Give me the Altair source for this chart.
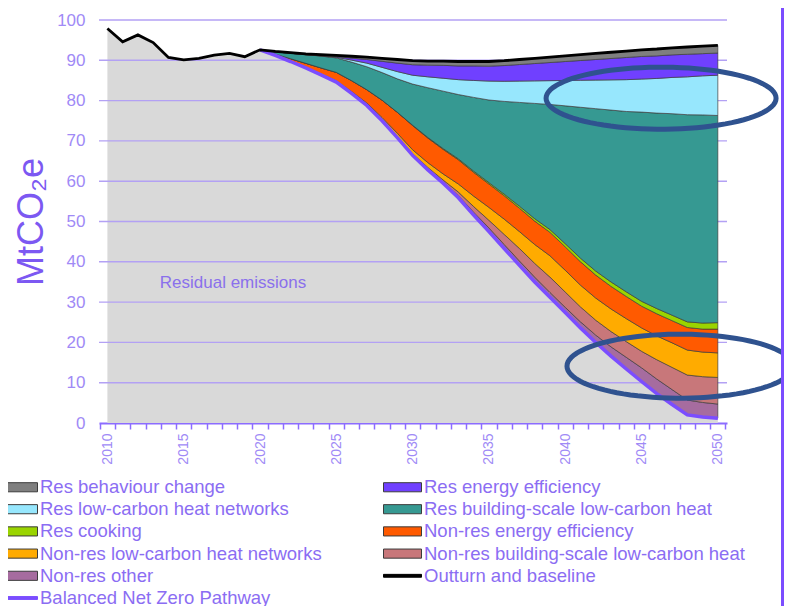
import math
import altair as alt
import pandas as pd

# ---------------- data ----------------
years_hist = list(range(2010, 2021))
outturn = [97.9, 94.6, 96.3, 94.4, 90.7, 90.1, 90.5, 91.3, 91.7, 90.9, 92.6]

years_proj = list(range(2020, 2051))
baseline = [92.6, 92.2, 91.9, 91.6, 91.4, 91.2, 91.0, 90.8, 90.5, 90.2, 89.9,
            89.8, 89.8, 89.7, 89.7, 89.7, 89.9, 90.2, 90.5, 90.8, 91.1,
            91.4, 91.7, 92.0, 92.3, 92.6, 92.8, 93.1, 93.3, 93.5, 93.7]
pathway = [92.6, 91.2, 89.7, 88.1, 86.4, 84.6, 81.8, 78.8, 75.0, 70.8, 66.4,
           62.8, 59.5, 55.9, 51.6, 47.5, 43.3, 39.1, 35.0, 31.2, 27.4,
           23.6, 20.0, 16.6, 13.4, 10.3, 7.3, 4.6, 2.0, 1.5, 1.2]

nonres_other = [0, 0, 0, 0, 0, 0, 0, 0, 0.05, 0.1, 0.1,
                0.2, 0.3, 0.5, 0.7, 0.9, 1.0, 1.1, 1.2, 1.2, 1.3,
                1.5, 1.8, 2.3, 2.9, 3.4, 3.6, 3.7, 3.7, 3.6, 3.5]
nonres_building = [0, 0, 0, 0, 0, 0, 0.05, 0.1, 0.15, 0.2, 0.3,
                   0.4, 0.5, 0.9, 1.4, 1.9, 2.5, 3.1, 3.4, 3.8, 3.8,
                   3.7, 3.7, 3.8, 3.9, 4.1, 4.8, 5.5, 6.2, 6.4, 6.6]
nonres_heatnet = [0, 0.05, 0.1, 0.15, 0.2, 0.3, 0.4, 0.5, 0.6, 0.8, 1.0,
                  1.2, 1.5, 2.0, 2.6, 3.2, 3.8, 4.2, 4.7, 5.3, 5.4,
                  5.4, 5.5, 5.6, 5.7, 5.8, 5.9, 6.1, 6.2, 6.1, 6.1]
nonres_eff = [0, 0.3, 0.6, 1.0, 1.5, 2.1, 2.7, 3.3, 4.3, 5.2, 6.0,
              6.1, 6.1, 6.0, 5.9, 5.8, 5.8, 5.8, 5.8, 5.8, 5.8,
              5.8, 5.7, 5.6, 5.5, 5.4, 5.5, 5.5, 5.6, 5.7, 5.9]
res_cooking = [0, 0, 0, 0, 0, 0, 0, 0, 0, 0, 0.1,
               0.15, 0.2, 0.25, 0.3, 0.35, 0.4, 0.5, 0.6, 0.7, 0.8,
               0.9, 1.0, 1.1, 1.15, 1.2, 1.3, 1.35, 1.4, 1.5, 1.6]
res_building = [0, 0.55, 1.35, 2.15, 2.95, 3.6, 4.6, 5.7, 6.85, 8.3, 10.2,
                12.35, 14.25, 15.95, 18.3, 20.5, 23.0, 25.75, 28.6, 31.05, 34.2,
                37.45, 40.3, 42.65, 44.75, 46.95, 48.5, 50.0, 51.4, 51.65, 51.4]
res_heatnet = [0, 0, 0, 0, 0.05, 0.15, 0.5, 0.9, 1.3, 1.8, 2.2,
               2.7, 3.2, 3.7, 4.2, 4.7, 5.0, 5.3, 5.6, 5.9, 6.3,
               6.7, 7.1, 7.5, 7.9, 8.2, 8.6, 9.0, 9.4, 9.7, 10.0]
res_eff = [0, 0, 0, 0, 0.05, 0.15, 0.5, 0.9, 1.5, 2.1, 2.6,
           2.9, 3.2, 3.4, 3.6, 3.7, 3.9, 4.1, 4.3, 4.5, 4.7,
           4.9, 5.1, 5.3, 5.5, 5.6, 5.6, 5.6, 5.6, 5.5, 5.5]
res_behaviour = [0, 0.1, 0.15, 0.2, 0.25, 0.3, 0.45, 0.6, 0.75, 0.9, 1.0,
                 1.0, 1.05, 1.1, 1.1, 1.15, 1.2, 1.25, 1.3, 1.35, 1.4,
                 1.45, 1.5, 1.55, 1.6, 1.65, 1.7, 1.75, 1.8, 1.85, 1.9]

legend_names = ["Res behaviour change", "Res energy efficiency",
                "Res low-carbon heat networks", "Res building-scale low-carbon heat",
                "Res cooking", "Non-res energy efficiency",
                "Non-res low-carbon heat networks", "Non-res building-scale low-carbon heat",
                "Non-res other", "Outturn and baseline", "Balanced Net Zero Pathway"]
legend_colors = ["#7f7f7f", "#7040ff", "#97e7fd", "#369992", "#9ad400", "#ff5a00",
                 "#ffab00", "#c8777a", "#a66c9f", "#000000", "#7b4dff"]

residual_label = ["Residual emissions"]
residual_label_pos = [2018.23, 34.7]
ellipse_years = [2046.28, 2047.52]
ellipse_values = [80.6, 14.1]
grid_values = list(range(10, 101, 10))

# ---------------- styling ----------------
FONT = "Liberation Sans"
GRAY = "#d9d9d9"
GRID = "#b3a1f4"
AXIS = "#8c6cff"
LABEL = "#a08af6"
LEGEND_TXT = "#8b6df3"
TITLE = "#7c58f2"
W, H = 628, 403
X0, X1 = 2009.45, 2050.6
HALF_YEAR_PX = W / (X1 - X0) / 2

color_of = dict(zip(legend_names, legend_colors))

stack_series = [("Non-res other", nonres_other),
                ("Non-res building-scale low-carbon heat", nonres_building),
                ("Non-res low-carbon heat networks", nonres_heatnet),
                ("Non-res energy efficiency", nonres_eff),
                ("Res cooking", res_cooking),
                ("Res building-scale low-carbon heat", res_building),
                ("Res low-carbon heat networks", res_heatnet),
                ("Res energy efficiency", res_eff),
                ("Res behaviour change", res_behaviour)]

rows = []
for yr, v in zip(years_hist[:-1], outturn[:-1]):
    rows.append({"year": yr, "series": "Residual emissions", "ord": 0, "value": v})
for i, yr in enumerate(years_proj):
    rows.append({"year": yr, "series": "Residual emissions", "ord": 0, "value": pathway[i]})
    for k, (name, vals) in enumerate(stack_series, start=1):
        rows.append({"year": yr, "series": name, "ord": k, "value": vals[i]})
stack_df = pd.DataFrame(rows)

black_df = pd.DataFrame({"year": years_hist + years_proj[1:],
                         "v": outturn + baseline[1:]})
path_df = pd.DataFrame({"year": years_proj, "v": pathway})

xscale = alt.Scale(domain=[X0, X1], nice=False, zero=False)
yscale = alt.Scale(domain=[0, 100], nice=False)

x_axis = alt.Axis(orient="bottom", values=[y + 0.5 for y in range(2009, 2051)],
                  labelExpr="(datum.value + 0.5) % 5 == 0 ? format(datum.value + 0.5, 'd') : ''",
                  labelOffset=HALF_YEAR_PX, ticks=True, tickSize=6, tickColor=AXIS,
                  tickWidth=1.5, domain=True, domainColor=AXIS, domainWidth=2.2, grid=False,
                  labelAngle=270, labelFontSize=14, labelColor=LABEL, labelFont=FONT,
                  labelPadding=4, labelFlush=False, labelOverlap=False, labelBound=False,
                  title=None)
y_axis = alt.Axis(orient="left", values=list(range(0, 101, 10)), grid=False, ticks=False,
                  domain=False, labelFontSize=17, labelColor=LABEL, labelFont=FONT,
                  labelPadding=14, title="MtCO₂e", titleFontSize=36, titleFont=FONT,
                  titleFontWeight="normal", titleColor=TITLE, titleAngle=270,
                  titleX=-68, titleY=H / 2, titleAlign="center", titleBaseline="middle")


def X(field="year"):
    return alt.X(f"{field}:Q", scale=xscale, axis=x_axis)


def Y(field):
    return alt.Y(f"{field}:Q", scale=yscale, axis=y_axis)


base = alt.Chart(stack_df).transform_stack(
    stack="value", groupby=["year"], as_=["y0", "y1"],
    sort=[alt.SortField("ord", order="ascending")])

gray = base.transform_filter("datum.ord == 0").mark_area(color=GRAY).encode(
    x=X(), y=Y("y1"), y2="y0:Q")

grid = alt.Chart(pd.DataFrame({"v": grid_values,
                               "xa": [X0] * len(grid_values),
                               "xb": [X1] * len(grid_values)})).mark_rule(
    color=GRID, strokeWidth=1.4).encode(y=Y("v"), x=X("xa"), x2="xb:Q")

colored = []
for k, (name, _) in enumerate(stack_series, start=1):
    colored.append(base.transform_filter(f"datum.ord == {k}").mark_area(
        fill=color_of[name], stroke="#3c3c3c", strokeWidth=0.8, strokeOpacity=0.85).encode(
        x=X(), y=Y("y1"), y2="y0:Q"))

path_line = alt.Chart(path_df).mark_line(color="#7b4dff", strokeWidth=3.5).encode(
    x=X(), y=Y("v"))
black_line = alt.Chart(black_df).mark_line(color="#000000", strokeWidth=2.8).encode(
    x=X(), y=Y("v"))

label_text = alt.Chart(pd.DataFrame({"year": [residual_label_pos[0]],
                                     "v": [residual_label_pos[1]],
                                     "t": residual_label})).mark_text(
    font=FONT, fontSize=17, color="#8a70ec", align="center", baseline="middle").encode(
    x=X(), y=Y("v"), text="t:N")


def ellipse_path(ratio, n=90):
    pts = []
    for i in range(n):
        t = 2 * math.pi * i / n
        pts.append(f"{math.cos(t):.4f},{ratio * math.sin(t):.4f}")
    return "M" + "L".join(pts) + "Z"


ellipse_shapes = [(ellipse_path(31 / 115), (2 * 115) ** 2),
                  (ellipse_path(32 / 113), (2 * 113) ** 2)]
ellipses = []
for i, (shp, sz) in enumerate(ellipse_shapes):
    ellipses.append(alt.Chart(pd.DataFrame({"year": [ellipse_years[i]],
                                            "v": [ellipse_values[i]]})).mark_point(
        filled=False, stroke="#2f528f", strokeWidth=5, opacity=1).encode(
        x=X(), y=Y("v"), shape=alt.value(shp), size=alt.value(sz)))

border = alt.Chart(pd.DataFrame({"a": [0]})).mark_rule(
    color="#7b4dff", strokeWidth=3).encode(
    x=alt.value(683.5), y=alt.value(-20), y2=alt.value(600))

RECT = "M-1,-0.24L1,-0.24L1,0.24L-1,0.24Z"
LINE = "M-1,-0.075L1,-0.075L1,0.075L-1,0.075Z"
shape_range = [RECT] * 9 + [LINE, LINE]
stroke_range = ["#3c3c3c"] * 9 + ["#000000", "#7b4dff"]

leg = alt.Legend(orient="none", legendX=-100, legendY=458, columns=2,
                 direction="horizontal", clipHeight=18,
                 columnPadding=61, rowPadding=3.2, labelFont=FONT, labelFontSize=18.5,
                 labelColor=LEGEND_TXT, labelOffset=2, symbolSize=1444,
                 symbolStrokeWidth=1, title=None, padding=0, labelLimit=0)

legend_layer = alt.Chart(pd.DataFrame({"series": legend_names,
                                       "year": [2030] * len(legend_names),
                                       "v": [50] * len(legend_names)})).transform_filter(
    "datum.v < 0").mark_point(filled=True, opacity=1).encode(
    x=X(), y=Y("v"),
    fill=alt.Fill("series:N", scale=alt.Scale(domain=legend_names, range=legend_colors), legend=leg),
    stroke=alt.Stroke("series:N", scale=alt.Scale(domain=legend_names, range=stroke_range), legend=leg),
    shape=alt.Shape("series:N", scale=alt.Scale(domain=legend_names, range=shape_range), legend=leg))

chart = alt.layer(gray, grid, *colored, path_line, black_line, label_text,
                  *ellipses, border, legend_layer).properties(
    width=W, height=H,
    autosize=alt.AutoSizeParams(type="none"),
    padding={"left": 91, "top": 12, "right": 57, "bottom": 186},
    background="white").configure_view(strokeWidth=0)

chart.save("out.html", embed_options={"renderer": "svg", "actions": False})
